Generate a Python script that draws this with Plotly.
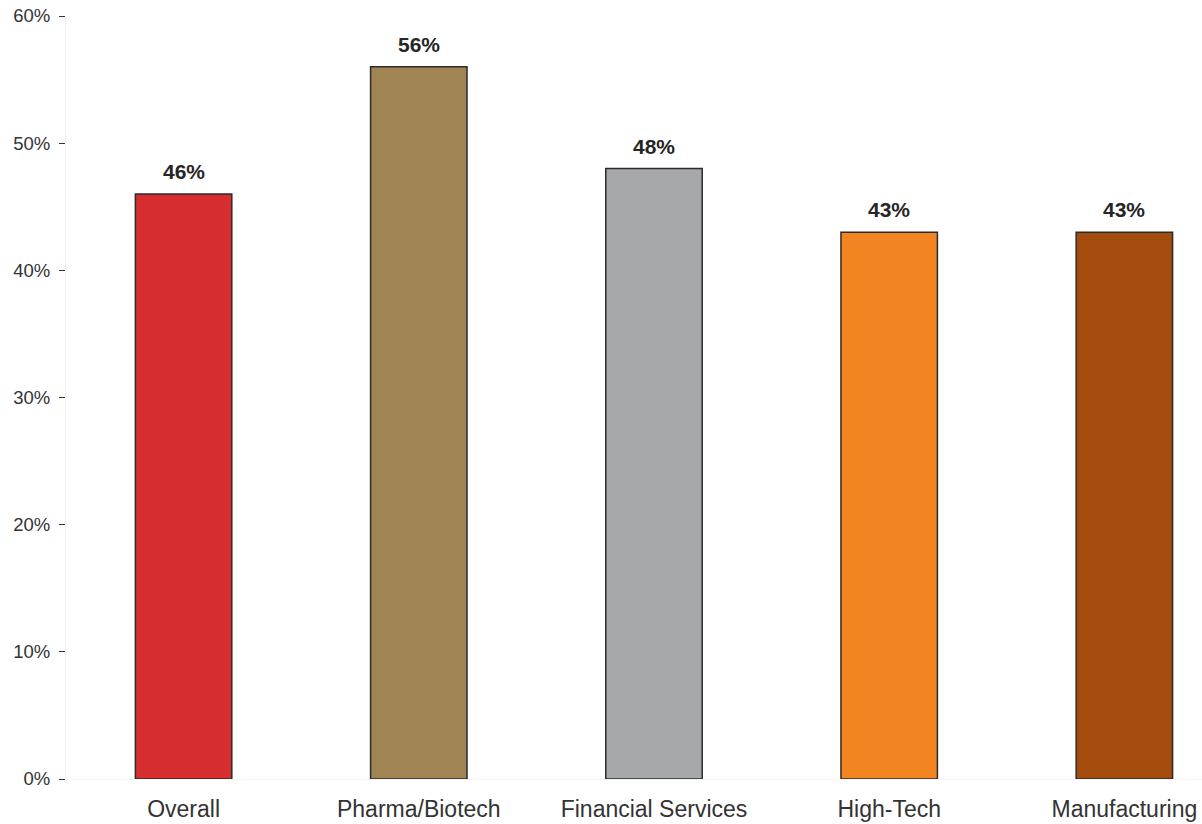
import plotly.graph_objects as go

categories = ["Overall", "Pharma/Biotech", "Financial Services", "High-Tech", "Manufacturing"]
values = [46, 56, 48, 43, 43]
colors = ["#D62E2E", "#A08454", "#A7A8AB", "#F28522", "#A34C0E"]
y_ticks = [0, 10, 20, 30, 40, 50, 60]
y_tick_text = [f"{v}%" for v in y_ticks]

fig = go.Figure()
fig.add_trace(go.Bar(
    x=categories,
    y=values,
    width=0.41,
    marker=dict(color=colors, line=dict(color="#2b2b2b", width=1.5)),
    hoverinfo="x+y",
))

for c, v in zip(categories, values):
    fig.add_annotation(
        x=c, y=v, text=f"<b>{v}%</b>", showarrow=False,
        yanchor="bottom", yshift=9,
        font=dict(family="Liberation Sans, Arial, sans-serif", size=21, color="#262626"),
    )

fig.update_layout(
    width=1202, height=824,
    margin=dict(l=66, r=0, t=16, b=45),
    plot_bgcolor="white", paper_bgcolor="white",
    showlegend=False,
    font=dict(family="Liberation Sans, Arial, sans-serif", color="#333333"),
)
fig.update_xaxes(
    type="category", range=[-0.5, 4.33],
    showgrid=False, showline=True, linecolor="#f3f3f3", linewidth=1,
    ticks="", tickfont=dict(size=23, color="#333333"),
    ticklabelstandoff=9,
)
fig.update_yaxes(
    range=[0, 60], tickvals=y_ticks, ticktext=y_tick_text,
    showgrid=False, showline=True, linecolor="#f3f3f3", linewidth=1,
    ticks="outside", ticklen=6, tickcolor="#333333", tickwidth=1,
    tickfont=dict(size=18.5, color="#333333"), ticklabelstandoff=5,
    zeroline=False,
)

fig.write_html("out.html")
